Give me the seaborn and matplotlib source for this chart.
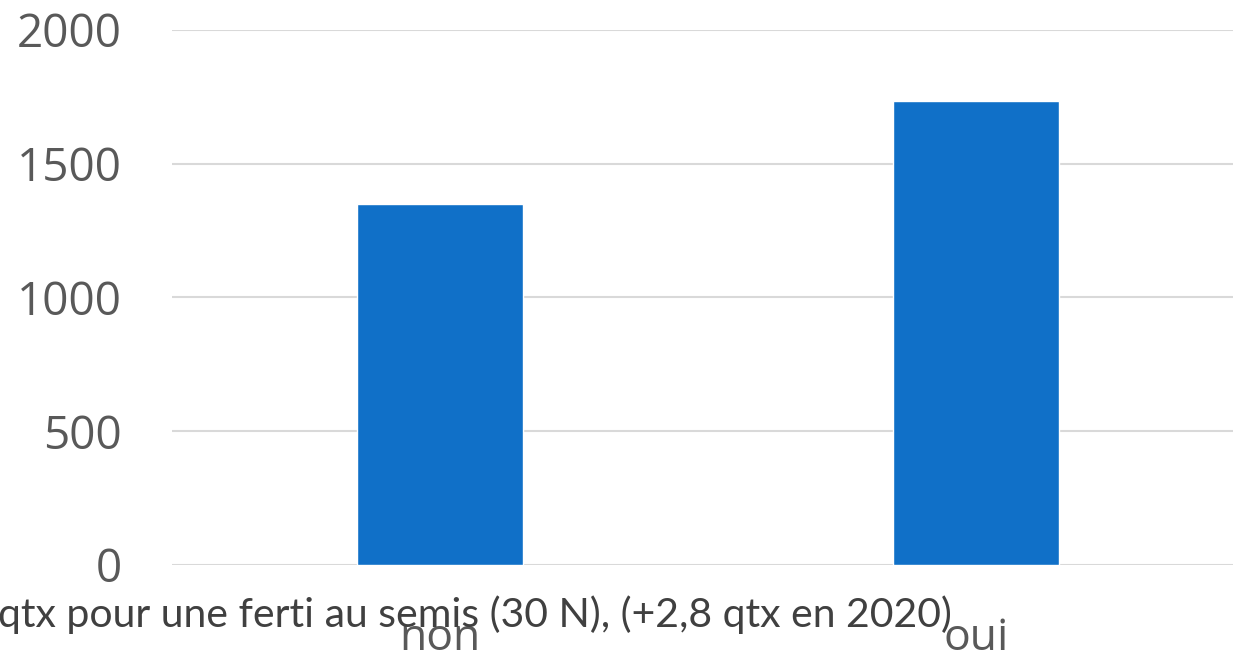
import matplotlib
matplotlib.use("Agg")
import matplotlib.pyplot as plt
import seaborn as sns
import pandas as pd

# data
categories = ["non", "oui"]
values = [1350, 1735]
y_ticks = [0, 500, 1000, 1500, 2000]
note = "qtx pour une ferti au semis (30 N), (+2,8 qtx en 2020)"

bar_color = "#1070C8"
text_color = "#595959"
grid_color = "#D9D9D9"

sns.set_style("white")
plt.rcParams["font.family"] = ["Open Sans", "DejaVu Sans"]

df = pd.DataFrame({"cat": categories, "val": values})

fig = plt.figure(figsize=(12.33, 6.53), dpi=100)
ax = fig.add_axes([0.1395, 0.1348, 0.8694, 0.8193])

sns.barplot(data=df, x="cat", y="val", color=bar_color, saturation=1,
            width=0.31, ax=ax)

ax.set_ylim(0, 2000)
ax.set_xlim(-0.5, 1.5)
ax.set_yticks(y_ticks)
ax.set_yticklabels([str(t) for t in y_ticks])
ax.yaxis.grid(True, color=grid_color, linewidth=1.5)
ax.set_axisbelow(True)
for s in ax.spines.values():
    s.set_visible(False)
ax.set_xlabel("")
ax.set_ylabel("")
ax.tick_params(axis="y", length=0, pad=36, labelsize=33, labelcolor=text_color)
ax.tick_params(axis="x", length=0, pad=37, labelsize=32, labelcolor=text_color)

# note text whose start runs off the left edge, as in the source slide
fig.text(-0.002, 1 - 627 / 653, note, ha="left", va="baseline", fontsize=29.5,
         color="#404040", family=["Lato", "DejaVu Sans"])

fig.savefig("out.png", dpi=100)
